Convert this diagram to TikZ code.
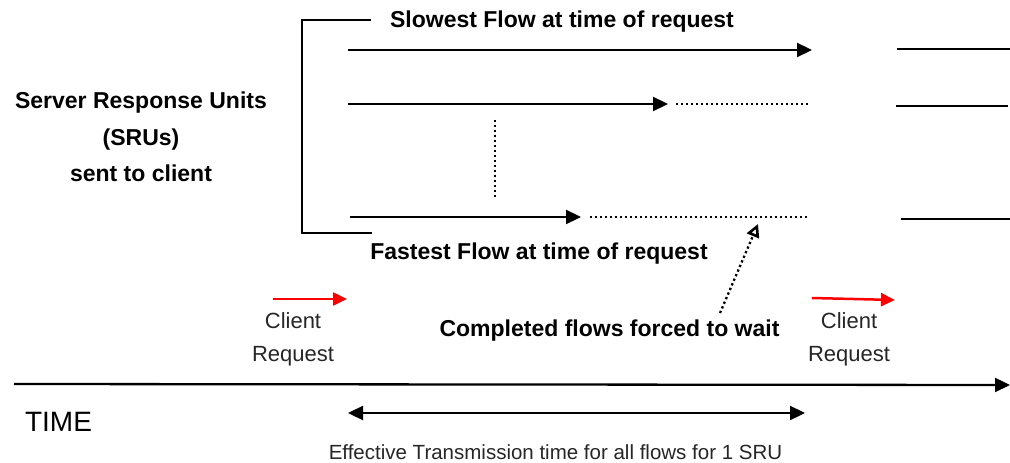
\documentclass[tikz,border=0pt]{standalone}
\usepackage{fontspec}
\setmainfont{Liberation Sans}
\usetikzlibrary{arrows.meta}

\begin{document}
\begin{tikzpicture}[x=1pt,y=-1pt,
  bold label/.style={inner sep=0pt, font=\fontsize{23}{27}\selectfont\bfseries},
  plain label/.style={inner sep=0pt, text=black!85, align=center,
                      font=\fontsize{22}{33}\selectfont},
  flow/.style={line width=2.3pt, -{Triangle[length=15pt,width=14pt]}},
  waiting/.style={line width=2.3pt, dash pattern=on 2.3pt off 2.7pt},
  seg/.style={line width=2.3pt},
  request/.style={line width=2.5pt, red, -{Triangle[length=14pt,width=13pt]}}]

\useasboundingbox (0,0) rectangle (1010,463);

% flow end points
\coordinate (f1s) at (348,50);  \coordinate (f1e) at (812,50);
\coordinate (f2s) at (348,104); \coordinate (f2e) at (668,104);
\coordinate (f3s) at (350,217); \coordinate (f3e) at (581,217);
\coordinate (w2s) at (676,104); \coordinate (w2e) at (808,104);
\coordinate (w3s) at (590,217); \coordinate (w3e) at (808,217);
\coordinate (n1s) at (897,49);  \coordinate (n1e) at (1010,49);
\coordinate (n2s) at (896,106); \coordinate (n2e) at (1008,106);
\coordinate (n3s) at (901,219); \coordinate (n3e) at (1010,219);

% bracket grouping the flows
\coordinate (bt) at (371,20);
\coordinate (bb) at (372,233);
\draw[seg] (bt) -- (302,20) -- (302,233) -- (bb);

% labels
\node[bold label] (slow) at (562,22) {Slowest Flow at time of request};
\node[bold label] (fast) at (539,254) {Fastest Flow at time of request};
\node[bold label, align=center, font=\fontsize{23}{36.5}\selectfont\bfseries]
  (sru) at (141,137) {Server Response Units\\(SRUs)\\sent to client};
\node[bold label] (wait) at (609.5,330.5) {Completed flows forced to wait};

% flows of the current SRU
\draw[flow] (f1s) -- (f1e);
\draw[flow] (f2s) -- (f2e);
\draw[flow] (f3s) -- (f3e);
\draw[waiting] (w2s) -- (w2e);
\draw[waiting] (w3s) -- (w3e);
\draw[waiting] (495,120) -- (495,199);

% flows of the next SRU
\draw[seg] (n1s) -- (n1e);
\draw[seg] (n2s) -- (n2e);
\draw[seg] (n3s) -- (n3e);

% pointer from the caption to the idle flow
\coordinate (wt) at (720,313);
\coordinate (wh) at (758,224);
\draw[waiting, -{Triangle[open,length=13pt,width=13pt,line width=2.6pt]}] (wt) -- (wh);

% client requests
\coordinate (r1s) at (273,299); \coordinate (r1e) at (347,299);
\coordinate (r2s) at (812,298); \coordinate (r2e) at (895,300);
\draw[request] (r1s) -- (r1e);
\draw[request] (r2s) -- (r2e);
\node[plain label] (req1) at (293,339) {Client\\Request};
\node[plain label] (req2) at (849,339) {Client\\Request};

% time axis
\coordinate (t0) at (14,384);
\coordinate (t1) at (1010,385);
\draw[flow] (t0) -- (t1);
\node[inner sep=0pt, font=\fontsize{28}{32}\selectfont] (time) at (58.5,422) {TIME};

% transmission interval
\coordinate (e0) at (348,413);
\coordinate (e1) at (805,413);
\draw[line width=2.3pt, {Triangle[length=15pt,width=14pt]}-{Triangle[length=15pt,width=14pt]}] (e0) -- (e1);
\node[plain label, font=\fontsize{20.5}{24}\selectfont] (eff) at (555.5,452)
  {Effective Transmission time for all flows for 1 SRU};

\end{tikzpicture}
\end{document}
